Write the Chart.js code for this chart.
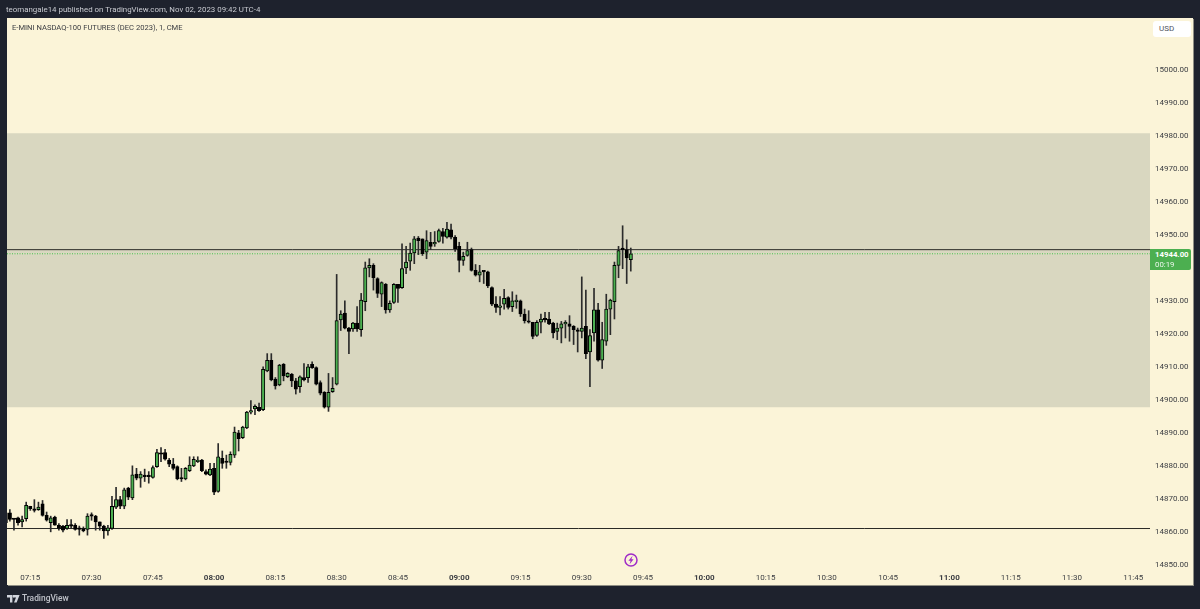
<!DOCTYPE html>
<html>
<head>
<meta charset="utf-8">
<title>E-MINI NASDAQ-100 FUTURES</title>
<script src="https://cdn.jsdelivr.net/npm/chart.js@4/dist/chart.umd.js"></script>
<style>
  html, body { margin: 0; padding: 0; width: 1200px; height: 609px; overflow: hidden; background: #1e222d; font-family: Roboto, sans-serif; }
  #pane { position: absolute; left: 7px; top: 18px; width: 1186px; height: 567px; background: #fbf4d8; box-shadow: 1px 1px 0 #8f8e83; }
  #chart-wrap { position: absolute; left: 0; top: 0; width: 1200px; height: 609px; }
  .abs { position: absolute; white-space: nowrap; }
  #published { left: 6px; top: 4px; font-size: 7.9px; line-height: 11px; color: #c9cbd1; }
  #title { left: 12px; top: 22px; font-size: 7.6px; line-height: 11px; color: #3b3d42; }
  #usd { left: 1153px; top: 21px; width: 38px; height: 16px; background: #fff; border-radius: 3px; font-size: 8px; line-height: 16px; color: #50535e; text-indent: 6px; }
  #last-tag { left: 1150px; top: 249px; width: 41px; height: 21px; background: #4caf50; border-radius: 0 2px 2px 0; color: #fff; font-size: 7.8px; line-height: 10px; padding-top: 1px; text-indent: 5px; box-sizing: border-box; }
  #last-tag b { display: block; font-weight: 700; }
  #last-tag span { display: block; opacity: .9; }
  #brand { left: 22px; top: 592px; font-size: 8.4px; line-height: 13px; color: #c0c3ca; font-weight: 500; }
</style>
</head>
<body>
<div id="pane"></div>
<div id="chart-wrap"><canvas id="priceChart" width="1200" height="609"></canvas></div>

<div class="abs" id="published">teomangale14 published on TradingView.com, Nov 02, 2023 09:42 UTC-4</div>
<div class="abs" id="title">E-MINI NASDAQ-100 FUTURES (DEC 2023), 1, CME</div>
<div class="abs" id="usd">USD</div>
<div class="abs" id="last-tag"><b id="last-price"></b><span>00:19</span></div>

<svg class="abs" style="left:624px;top:553px" width="14" height="14" viewBox="0 0 14 14">
  <circle cx="7" cy="7" r="6" fill="#fbf4d8" stroke="#a02cc8" stroke-width="1.5"/>
  <path d="M8.6 2.8 4.4 7.8h2.2l-1 3.4 4-5h-2.2z" fill="#a02cc8"/>
</svg>
<svg class="abs" style="left:7px;top:595px" width="13" height="8" viewBox="0 0 13 8">
  <path d="M0 0h5.4v7.4H3V2.4H0zM6 0h6.6L9.6 7.4H7L9 2.4H6z" fill="#d1d4dc"/>
  <circle cx="6.6" cy="1.2" r="1.1" fill="#d1d4dc"/>
</svg>
<div class="abs" id="brand">TradingView</div>

<script>
// 1 minute bars, 07:09 through 09:42
const firstBarMinute = 429;

const opens = [
  14865.5, 14865.5, 14863.75, 14864, 14862.75, 14863.75, 14867.5, 14866.5, 14866.5, 14868.25,
  14864.75, 14862.5, 14864.25, 14861.75, 14861.5, 14860.75, 14861.75, 14861.75, 14860.75, 14860.75,
  14860.5, 14864.75, 14864.5, 14862.75, 14861.5, 14860, 14860.75, 14867.25, 14869.5, 14867.5,
  14873, 14870, 14877.25, 14876, 14876.75, 14876.75, 14876.25, 14879.5, 14883.5, 14883.75,
  14881.5, 14880.25, 14879.5, 14876, 14875.75, 14878.25, 14879.75, 14881, 14881.5, 14878,
  14877, 14879, 14872, 14882, 14881, 14880.75, 14883, 14889.75, 14888.25, 14891.25,
  14896, 14897, 14897.5, 14896.75, 14908.5, 14911.75, 14906, 14904.25, 14910.5, 14906.75,
  14907.5, 14905.5, 14903.75, 14906.5, 14906.5, 14910.5, 14909.5, 14905, 14902, 14897.5,
  14902.25, 14904.5, 14924, 14926, 14921.5, 14921.25, 14923, 14921, 14929.5, 14939.75,
  14940.5, 14936.5, 14931.75, 14934.75, 14927, 14929.25, 14934.75, 14933.75, 14939.75, 14941.75,
  14944.25, 14948.75, 14948.5, 14944.5, 14947.5, 14947, 14947.75, 14950.75, 14949, 14951.25,
  14949, 14946.25, 14942, 14943.5, 14945.25, 14939, 14937.5, 14938.75, 14938.5, 14933.75,
  14928.75, 14927.75, 14928.75, 14930.75, 14928, 14929.5, 14929.75, 14925.75, 14923.5, 14923.25,
  14919.25, 14923.25, 14924.25, 14924.25, 14923, 14920.5, 14921.5, 14922.75, 14922.75, 14922,
  14920.75, 14920.5, 14922, 14914.25, 14920, 14927, 14911.75, 14917.5, 14927.25, 14929.5,
  14940.5, 14945.75, 14945.25, 14942.25
];
const highs = [
  14865.75, 14866.5, 14863.75, 14864.25, 14864.5, 14868.75, 14867.5, 14869.5, 14868.75, 14869.25,
  14865.75, 14864.5, 14864.5, 14862.25, 14861.75, 14863.5, 14863.5, 14862.25, 14861.5, 14861.25,
  14865.25, 14865.5, 14864.75, 14862.75, 14861.75, 14861.75, 14870.5, 14873.25, 14870.5, 14873,
  14873.25, 14879.75, 14879, 14878, 14878.75, 14878, 14879.75, 14884.75, 14885.25, 14884.75,
  14882, 14882, 14879.75, 14879, 14879.25, 14882.5, 14882.5, 14882.5, 14881.75, 14878.5,
  14880.5, 14880.5, 14886.5, 14884.25, 14883, 14884, 14891.5, 14890.5, 14891.75, 14896.25,
  14899.5, 14898.25, 14898.75, 14909.75, 14913.75, 14913.75, 14906.5, 14910.5, 14910.75, 14908,
  14907.75, 14906.25, 14907, 14910.75, 14910.5, 14911.25, 14909.75, 14905.5, 14902.25, 14907.75,
  14906.5, 14937.75, 14926.75, 14929.75, 14921.75, 14923.25, 14928, 14932, 14941.5, 14942.5,
  14941, 14936.75, 14935.5, 14935, 14929.75, 14935, 14934.75, 14947, 14946.25, 14947.25,
  14949.25, 14949.25, 14948.5, 14951, 14950.5, 14950.75, 14951.5, 14951.75, 14953.5, 14953,
  14949.5, 14947.5, 14944.5, 14947.5, 14945.75, 14940.75, 14940.5, 14938.75, 14938.75, 14934,
  14931, 14931, 14933.25, 14931, 14932.5, 14931.5, 14930, 14927.25, 14926.75, 14923.25,
  14923.75, 14925.75, 14926.25, 14926.25, 14923.25, 14923, 14923.5, 14923.75, 14925.25, 14922.25,
  14921.5, 14937, 14933, 14921, 14933.5, 14929, 14923.25, 14931.75, 14930.25, 14941.5,
  14946.25, 14952.5, 14948.25, 14945.75
];
const lows = [
  14862.25, 14863, 14860.25, 14861.75, 14861.25, 14863, 14866.25, 14865.75, 14866.25, 14864.5,
  14863, 14859.75, 14861.75, 14860.25, 14859.75, 14860.5, 14860.75, 14860.25, 14858.75, 14859.75,
  14858.75, 14863.25, 14860.25, 14860.25, 14857.75, 14858.75, 14860.5, 14866.75, 14866.75, 14866.75,
  14869.5, 14869.5, 14875.5, 14873.25, 14875, 14874.5, 14876, 14879.25, 14881, 14881.5,
  14879.5, 14878.5, 14875.5, 14875, 14875.5, 14878, 14879.5, 14880.75, 14878, 14877,
  14876.75, 14871, 14871.75, 14879, 14879, 14880, 14882.25, 14884.25, 14888, 14891,
  14895.5, 14895.25, 14896.25, 14896.5, 14908.25, 14905.5, 14903, 14904, 14905.5, 14906.5,
  14903.75, 14901.5, 14902, 14905.5, 14905, 14909.25, 14904.25, 14901.25, 14897.25, 14896.25,
  14902, 14904.25, 14920.75, 14921.25, 14913.75, 14920.5, 14920.5, 14919, 14926.75, 14937,
  14933, 14930.75, 14928, 14926, 14926.25, 14929, 14929.25, 14933.5, 14938, 14939,
  14941, 14943.75, 14943.5, 14942.5, 14945.25, 14946.25, 14947.5, 14947.25, 14948.75, 14948.5,
  14944.75, 14938.5, 14940.5, 14943.25, 14938.75, 14937.25, 14935.5, 14935, 14933.75, 14928.25,
  14926.25, 14925.5, 14927.25, 14927.25, 14926.5, 14927.5, 14925, 14923, 14923, 14918.25,
  14919, 14920, 14923.25, 14922.5, 14918.5, 14918, 14917, 14918.5, 14917.5, 14916.5,
  14914.25, 14918.5, 14912.25, 14903.75, 14917.5, 14911.5, 14909.25, 14916.25, 14919.5, 14924.25,
  14936.75, 14939.5, 14935, 14938.75
];
const closes = [
  14862.5, 14863.5, 14863.5, 14862.5, 14863.5, 14867.75, 14866.75, 14866.25, 14867.25, 14864.75,
  14863.25, 14864, 14861.75, 14860.75, 14860.25, 14861.75, 14861.5, 14860.5, 14860.5, 14860,
  14864.5, 14864.5, 14862.75, 14861.5, 14860, 14861, 14867.5, 14869.5, 14867.5, 14872.5,
  14870.25, 14877, 14876, 14877.25, 14876.5, 14876.5, 14879.25, 14883.75, 14883.25, 14881.75,
  14880.25, 14879, 14875.75, 14875.75, 14879, 14880, 14881.75, 14881.5, 14878.25, 14877.25,
  14878.75, 14871.75, 14882.5, 14880.5, 14880.75, 14883.25, 14890, 14888, 14891.5, 14896,
  14896.5, 14897.75, 14896.5, 14909, 14911.75, 14905.75, 14904, 14910.25, 14907, 14907.75,
  14905.5, 14903, 14906.75, 14905.75, 14909.75, 14909.5, 14904.5, 14901.75, 14897.5, 14902,
  14903.25, 14923.75, 14925.75, 14921.5, 14920.5, 14923, 14921.25, 14930, 14939.75, 14940.5,
  14936.75, 14932, 14935.25, 14927, 14929, 14934.75, 14933.5, 14939.5, 14941.5, 14944.25,
  14948.5, 14948, 14944, 14948, 14946.25, 14947.25, 14951, 14949.25, 14951.5, 14949,
  14945.5, 14942, 14943.25, 14945, 14939, 14937.5, 14938.5, 14938.5, 14934.25, 14928.75,
  14927.75, 14928.25, 14930.5, 14927.75, 14929.75, 14930, 14925.75, 14923.75, 14923.25, 14919,
  14923.25, 14924.25, 14924, 14922.75, 14920, 14921.5, 14922.75, 14923, 14922, 14921,
  14920.5, 14921.5, 14913.75, 14919.25, 14927, 14911.75, 14918, 14927.25, 14930, 14940.5,
  14945, 14945.25, 14942.75, 14944
];

const priceTicks = [15000, 14990, 14980, 14970, 14960, 14950, 14940, 14930, 14920, 14910, 14900, 14890, 14880, 14870, 14860, 14850];
const timeTickMinutes = [435, 450, 465, 480, 495, 510, 525, 540, 555, 570, 585, 600, 615, 630, 645, 660, 675, 690, 705];
const timeTickLabels = ['07:15', '07:30', '07:45', '08:00', '08:15', '08:30', '08:45', '09:00', '09:15', '09:30', '09:45', '10:00', '10:15', '10:30', '10:45', '11:00', '11:15', '11:30', '11:45'];

const zoneTop = 14980.5;
const zoneBottom = 14897.5;
const upperLevel = 14945.25;
const lowerLevel = 14860.75;

const xMin = 429.3;
const xMax = 709.1;
const yMin = 14848.79;
const yMax = 15015.45;

const upColor = '#4caf50';
const downColor = '#000000';
const lastClose = closes[closes.length - 1];

document.getElementById('last-price').textContent = lastClose.toFixed(2);

const barData = opens.map((o, i) => ({ x: firstBarMinute + i, y: [o, closes[i]] }));
const wickData = opens.map((o, i) => ({ x: firstBarMinute + i, y: [lows[i], highs[i]] }));

function hLine(value) {
    return [{ x: xMin, y: value }, { x: xMax, y: value }];
}

new Chart(document.getElementById('priceChart').getContext('2d'), {
    type: 'bar',
    data: {
        datasets: [
            {
                type: 'line',
                data: hLine(zoneTop),
                fill: { value: zoneBottom },
                backgroundColor: '#d9d7c0',
                borderWidth: 0,
                pointRadius: 0,
                order: 10
            },
            {
                type: 'line',
                data: hLine(upperLevel),
                borderColor: '#2a2a26',
                borderWidth: 1,
                pointRadius: 0,
                order: 9
            },
            {
                type: 'line',
                data: hLine(lowerLevel),
                borderColor: '#2a2a26',
                borderWidth: 1,
                pointRadius: 0,
                order: 9
            },
            {
                type: 'line',
                data: hLine(lastClose),
                borderColor: '#43c24a',
                borderWidth: 1,
                borderDash: [1, 1.5],
                pointRadius: 0,
                order: 8
            },
            {
                data: wickData,
                backgroundColor: '#2b2b2b',
                barThickness: 1,
                grouped: false,
                order: 2
            },
            {
                data: barData,
                backgroundColor: opens.map((o, i) => closes[i] >= o ? upColor : downColor),
                borderColor: '#000000',
                borderWidth: 1,
                borderSkipped: false,
                barThickness: 3.4,
                minBarLength: 1.5,
                grouped: false,
                order: 1
            }
        ]
    },
    options: {
        responsive: false,
        animation: false,
        events: [],
        layout: { padding: { left: 7, right: 6, top: 18, bottom: 24 } },
        plugins: { legend: { display: false }, tooltip: { enabled: false } },
        scales: {
            x: {
                type: 'linear',
                offset: false,
                min: xMin,
                max: xMax,
                grid: { display: false, drawTicks: false },
                border: { display: false },
                afterBuildTicks: (scale) => { scale.ticks = timeTickMinutes.map(v => ({ value: v })); },
                afterFit: (scale) => { scale.height = 17; },
                ticks: {
                    autoSkip: false,
                    maxRotation: 0,
                    padding: 5,
                    color: '#3b3d42',
                    font: (ctx) => ({
                        family: 'Roboto, sans-serif',
                        size: 8,
                        weight: ctx.tick && ctx.tick.value % 60 === 0 ? '700' : '400'
                    }),
                    callback: (value) => timeTickLabels[timeTickMinutes.indexOf(value)]
                }
            },
            y: {
                position: 'right',
                min: yMin,
                max: yMax,
                grid: { display: false, drawTicks: false },
                border: { display: false },
                afterBuildTicks: (scale) => { scale.ticks = priceTicks.map(v => ({ value: v })); },
                afterFit: (scale) => { scale.width = 44; },
                ticks: {
                    autoSkip: false,
                    padding: 5,
                    labelOffset: 1,
                    color: '#3b3d42',
                    font: { family: 'Roboto, sans-serif', size: 8 },
                    callback: (value) => value.toFixed(2)
                }
            }
        }
    }
});
</script>
</body>
</html>
